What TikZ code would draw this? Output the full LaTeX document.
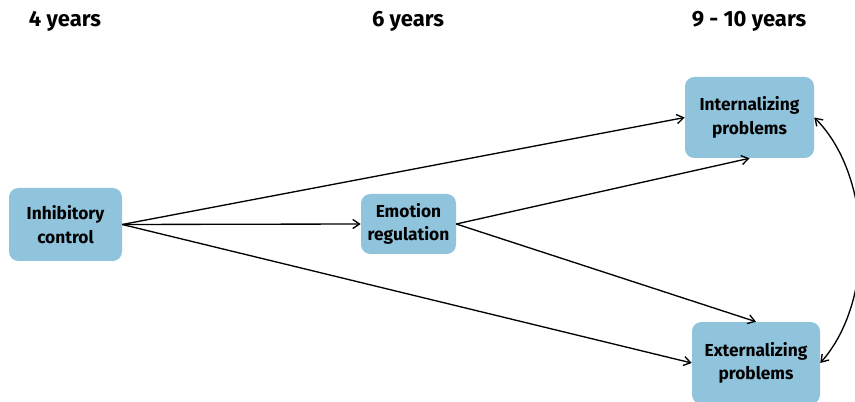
\documentclass[tikz,border=0pt]{standalone}
\usepackage{fontspec}
\setmainfont{Fira Sans}
\usepackage{xcolor}
\usetikzlibrary{positioning,arrows.meta}
\definecolor{boxblue}{RGB}{143,196,220}

\begin{document}
\begin{tikzpicture}[
          x=0.75pt, y=-0.75pt,
          var/.style={fill=boxblue, rounded corners=7pt, align=center, font=\fontsize{13}{17.5}\selectfont\bfseries, inner sep=0pt},
          age/.style={font=\fontsize{16.5}{19}\selectfont\bfseries},
          arr/.style={-{Straight Barb[length=1.8mm,width=2.4mm]}, line width=1pt}
      ]
        \useasboundingbox (0,0) rectangle (855,402);
        % time points
        \node[age] (t1) at (65,21) {4 years};
        \node[age] (t2) at (408,21) {6 years};
        \node[age] (t3) at (749,21) {9 - 10 years};
        % variables
        \node[var, minimum width=84.75pt, minimum height=54.75pt] (ic) at (65.5,224.5) {Inhibitory\\control};
        \node[var, minimum width=71.25pt, minimum height=45pt] (er) at (408.5,224) {Emotion\\regulation};
        \node[var, minimum width=96.75pt, minimum height=60.75pt] (int) at (749.5,117.5) {Internalizing\\problems};
        \node[var, minimum width=96pt, minimum height=61.5pt] (ext) at (756,363) {Externalizing\\problems};
        % paths
        \draw[arr] (ic.east) -- (int.west);
        \draw[arr] (ic.east) -- (er.west);
        \draw[arr] (ic.east) -- (ext.west);
        \draw[arr] (er.east) -- (int.south);
        \draw[arr] (er.east) -- (ext.north);
        \draw[arr, {Straight Barb[length=1.8mm,width=2.4mm]}-{Straight Barb[length=1.8mm,width=2.4mm]}]
          (int.east) .. controls (872,175) and (876,300) .. (ext.east);
      \end{tikzpicture}
\end{document}
